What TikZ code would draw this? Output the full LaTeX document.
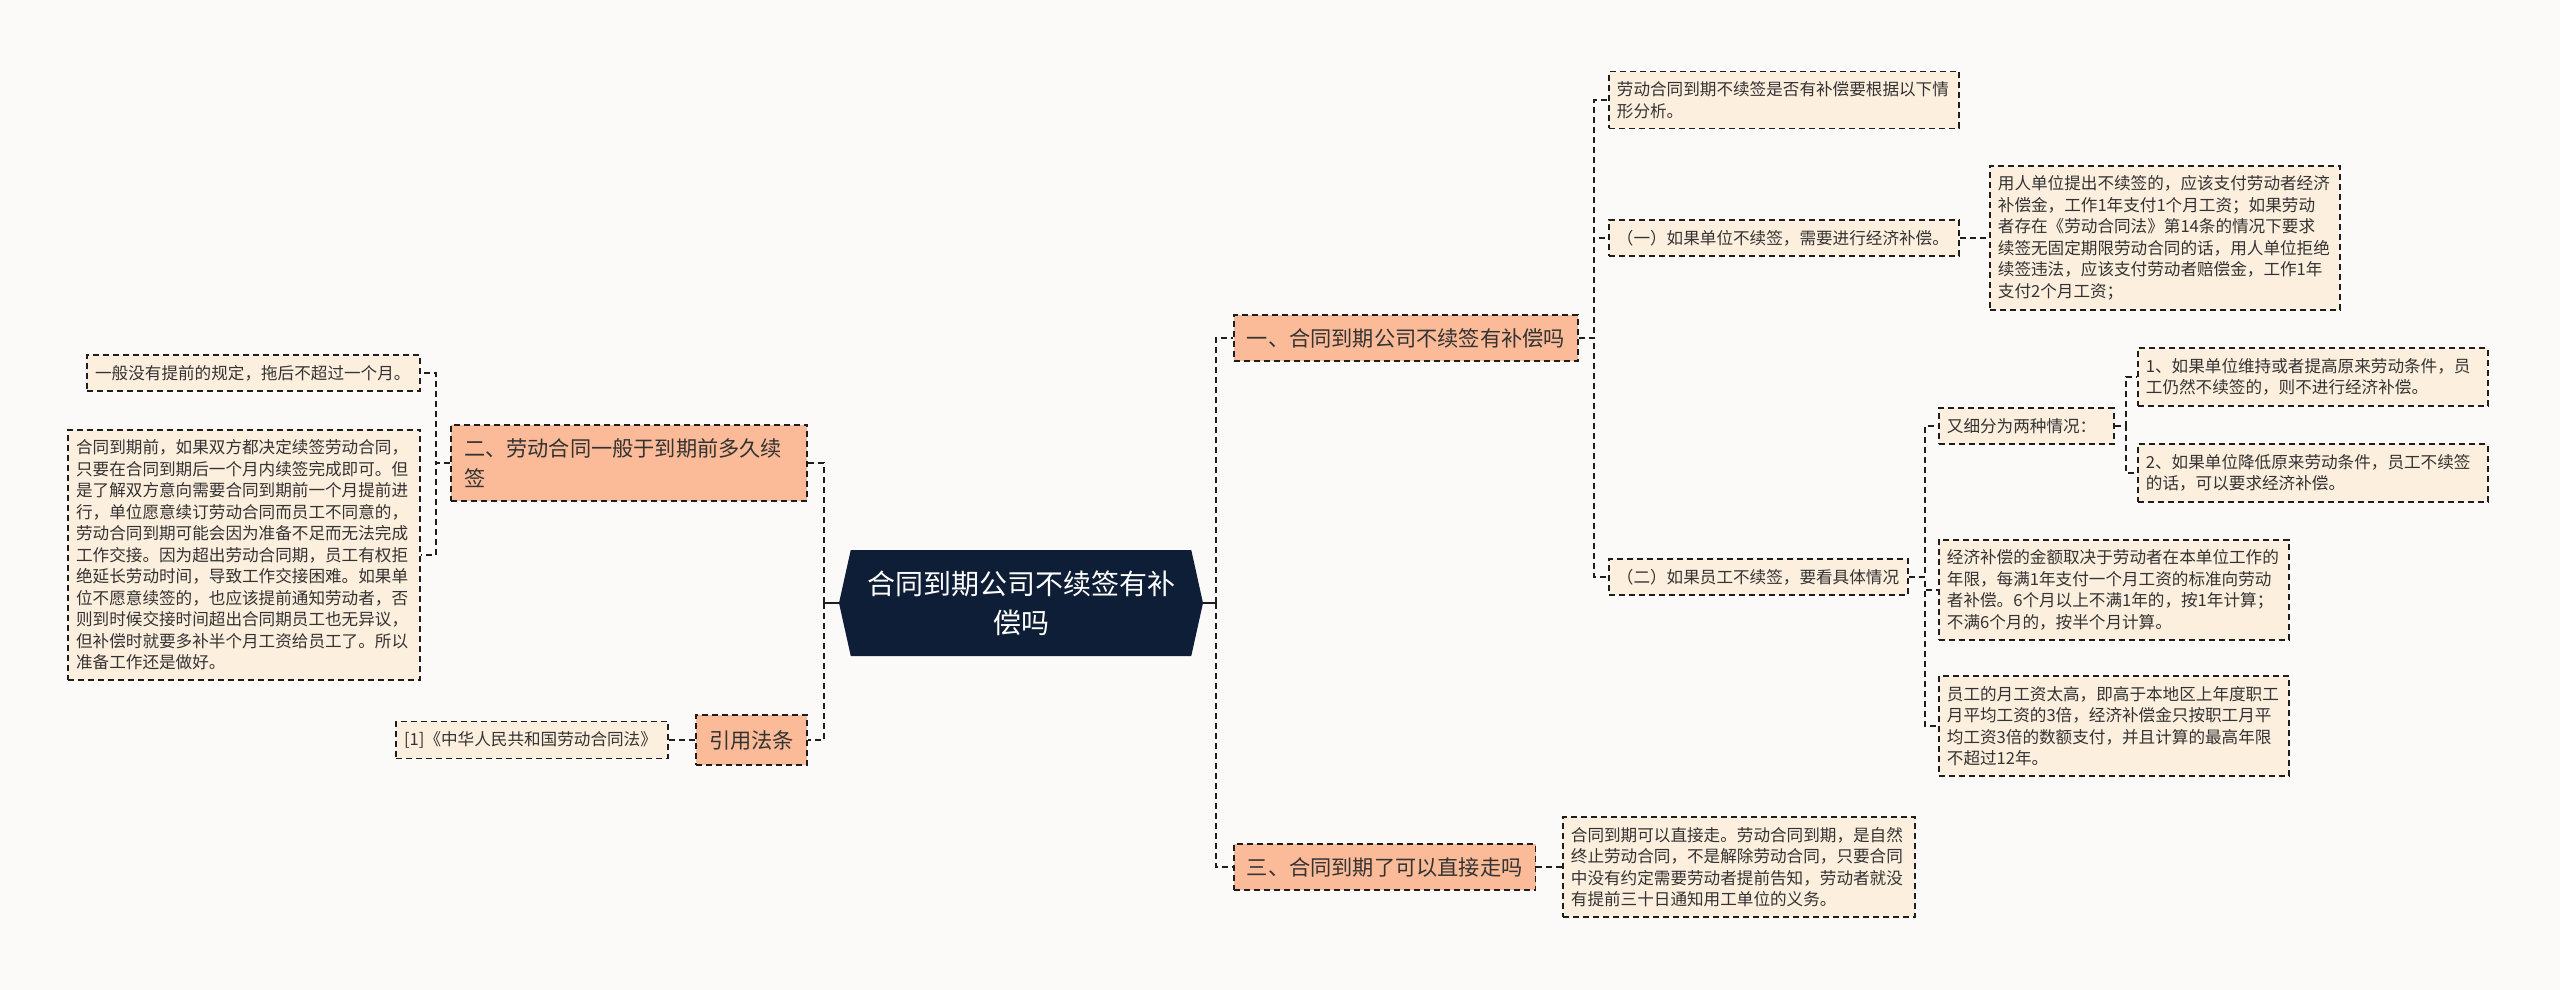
\documentclass[tikz,border=0pt]{standalone}
\usepackage{fontspec}
\setmainfont{Noto Sans CJK SC}
\usepackage{tikz}
\usetikzlibrary{shapes.symbols}
\definecolor{paper}{RGB}{252,250,249}
\definecolor{navy}{RGB}{14,30,54}
\definecolor{salmon}{RGB}{251,187,152}
\definecolor{cream}{RGB}{253,239,222}
\definecolor{ink}{RGB}{51,51,51}
\definecolor{wire}{RGB}{30,30,30}

\begin{document}
\begin{tikzpicture}[x=0.5pt,y=0.5pt,yscale=-1,
  box/.style={draw=wire,line width=0.9pt,dash pattern=on 3pt off 2pt,text=ink},
  leaf/.style={box,fill=cream,font=\fontsize{8.3}{10.75}\selectfont,align=left,inner xsep=4pt,inner ysep=5pt},
  topic/.style={box,fill=salmon,font=\fontsize{10.6}{14.7}\selectfont,inner xsep=6.5pt,minimum height=23pt},
  link/.style={draw=wire,line width=1pt,dash pattern=on 3pt off 2pt},
  stem/.style={draw=wire,line width=1.3pt}]
%set diagram left start at 0, size 2560 x 990
\fill[paper] (0,0) rectangle (2560,990);
\path[use as bounding box] (0,0) rectangle (2560,990);

%Shape: Signal (root)
\node[signal,signal to=west and east,signal pointer angle=155,fill=navy,text=white,
  font=\fontsize{14}{19.5}\selectfont,align=center,minimum width=182pt,minimum height=53pt,inner sep=0pt]
  (root) at (1021,603) {合同到期公司不续签有补\\偿吗};

%Shape: Rectangle (right topics)
\node[topic,anchor=west] (one) at (1233,338) {一、合同到期公司不续签有补偿吗};
\node[topic,anchor=west] (three) at (1233,867) {三、合同到期了可以直接走吗};

%Shape: Rectangle (left topics)
\node[topic,anchor=east,text width=165pt,align=left,inner ysep=7pt] (two) at (808,463) {二、劳动合同一般于到期前多久续\\签};
\node[topic,anchor=east,minimum height=25pt] (law) at (808,740) {引用法条};

%Shape: Rectangle (branch one)
\node[leaf,anchor=west,text width=167pt] (tip) at (1608,100) {劳动合同到期不续签是否有补偿要根据以下情\\形分析。};
\node[leaf,anchor=west,text width=167pt] (c1) at (1608,238) {（一）如果单位不续签，需要进行经济补偿。};
\node[leaf,anchor=west,text width=167pt] (pay) at (1989,238) {用人单位提出不续签的，应该支付劳动者经济\\补偿金，工作1年支付1个月工资；如果劳动\\者存在《劳动合同法》第14条的情况下要求\\续签无固定期限劳动合同的话，用人单位拒绝\\续签违法，应该支付劳动者赔偿金，工作1年\\支付2个月工资；};
\node[leaf,anchor=west,text width=141.5pt] (c2) at (1608,577) {（二）如果员工不续签，要看具体情况};
\node[leaf,anchor=west,text width=79.5pt] (split) at (1938,426) {又细分为两种情况：};
\node[leaf,anchor=west,text width=167pt] (s1) at (2137,377) {1、如果单位维持或者提高原来劳动条件，员\\工仍然不续签的，则不进行经济补偿。};
\node[leaf,anchor=west,text width=167pt] (s2) at (2137,473) {2、如果单位降低原来劳动条件，员工不续签\\的话，可以要求经济补偿。};
\node[leaf,anchor=west,text width=167pt] (amount) at (1938,590) {经济补偿的金额取决于劳动者在本单位工作的\\年限，每满1年支付一个月工资的标准向劳动\\者补偿。6个月以上不满1年的，按1年计算；\\不满6个月的，按半个月计算。};
\node[leaf,anchor=west,text width=167pt] (high) at (1938,726) {员工的月工资太高，即高于本地区上年度职工\\月平均工资的3倍，经济补偿金只按职工月平\\均工资3倍的数额支付，并且计算的最高年限\\不超过12年。};

%Shape: Rectangle (branch three)
\node[leaf,anchor=west,text width=168pt] (walk) at (1562,867) {合同到期可以直接走。劳动合同到期，是自然\\终止劳动合同，不是解除劳动合同，只要合同\\中没有约定需要劳动者提前告知，劳动者就没\\有提前三十日通知用工单位的义务。};

%Shape: Rectangle (left leaves)
\node[leaf,anchor=east,text width=158.5pt] (short) at (421,373) {一般没有提前的规定，拖后不超过一个月。};
\node[leaf,anchor=east,text width=168pt] (early) at (421,555) {合同到期前，如果双方都决定续签劳动合同，\\只要在合同到期后一个月内续签完成即可。但\\是了解双方意向需要合同到期前一个月提前进\\行，单位愿意续订劳动合同而员工不同意的，\\劳动合同到期可能会因为准备不足而无法完成\\工作交接。因为超出劳动合同期，员工有权拒\\绝延长劳动时间，导致工作交接困难。如果单\\位不愿意续签的，也应该提前通知劳动者，否\\则到时候交接时间超出合同期员工也无异议，\\但补偿时就要多补半个月工资给员工了。所以\\准备工作还是做好。};
\node[leaf,anchor=east,text width=128pt] (ref) at (669,740) {[1]《中华人民共和国劳动合同法》};

%Straight Lines (root)
\draw[stem] (root.east) -- ++(13,0) coordinate (rhub);
\draw[link] (rhub) |- (one.west);
\draw[link] (rhub) |- (three.west);
\draw[stem] (root.west) -- ++(-15,0) coordinate (lhub);
\draw[link] (lhub) |- (two.east);
\draw[link] (lhub) |- (law.east);

%Straight Lines (branch one)
\draw[link] (one.east) -- ++(15,0) |- (tip.west);
\draw[link] (one.east) -- ++(15,0) |- (c1.west);
\draw[link] (one.east) -- ++(15,0) |- (c2.west);
\draw[link] (c1.east) -- (pay.west);
\draw[link] (c2.east) -- ++(16,0) |- (split.west);
\draw[link] (c2.east) -- ++(16,0) |- (amount.west);
\draw[link] (c2.east) -- ++(16,0) |- (high.west);
\draw[link] (split.east) -- ++(11,0) |- (s1.west);
\draw[link] (split.east) -- ++(11,0) |- (s2.west);

%Straight Lines (branch two, three, law)
\draw[link] (three.east) -- (walk.west);
\draw[link] (two.west) -- ++(-14,0) |- (short.east);
\draw[link] (two.west) -- ++(-14,0) |- (early.east);
\draw[link] (law.west) -- (ref.east);

\end{tikzpicture}
\end{document}
